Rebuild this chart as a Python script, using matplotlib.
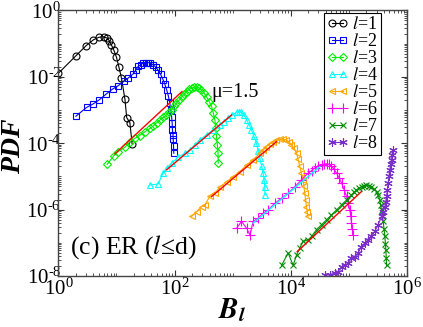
import matplotlib
matplotlib.use("Agg")
import matplotlib.pyplot as plt
from matplotlib.ticker import LogLocator, NullFormatter, FuncFormatter
import numpy as np

plt.rcParams['font.family'] = ['Liberation Serif', 'DejaVu Serif']
plt.rcParams['mathtext.fontset'] = 'stix'

# l=1 .. l=8 : B_l values and PDF values
b1 = [1, 2, 3, 4, 5, 6, 7, 7.5, 8.2, 9, 10, 11, 12.2, 14, 15, 17, 18.6]
p1 = [0.0128, 0.043, 0.087, 0.13, 0.156, 0.16, 0.146, 0.123, 0.091, 0.064, 0.039, 0.020, 0.0091,
      0.0021, 5.9e-4, 4.2e-4, 9.5e-5]

b2 = [2, 3.06, 3.9, 5, 6.6, 8.6, 10.7, 13.4, 15.9, 19.4, 21.5, 23.6, 26, 28.8, 32, 35, 38.5,
      42.8, 47, 52, 57.5, 63.6, 68, 73, 78, 83, 86, 89, 91, 92, 94, 95, 96, 97]
p2 = [6.5e-4, 1.2e-3, 1.5e-3, 2.0e-3, 3.0e-3, 4.3e-3, 5.4e-3, 7.3e-3, 9.2e-3, 0.0123, 0.016,
      0.0205, 0.023, 0.026, 0.027, 0.027, 0.026, 0.023, 0.020, 0.016, 0.012, 0.0081, 0.006,
      0.0041, 0.0027, 1.6e-3, 1.0e-3, 6.3e-4, 4e-4, 2.5e-4, 1.8e-4, 1.3e-4, 8e-5, 5e-5]

b3 = [6.9, 9, 10.7, 14, 17, 20.7, 25, 30.8, 37.6, 42.8, 49, 56, 64, 72.5, 80, 89, 98, 108, 120,
      132, 146, 161, 178, 196, 218, 240, 265, 290, 320, 355, 395, 433, 465, 495, 512, 527, 545,
      560, 565]
p3 = [2.3e-5, 4.2e-5, 5.6e-5, 7.6e-5, 1.1e-4, 1.4e-4, 1.7e-4, 2.2e-4, 2.8e-4, 3.3e-4, 4.1e-4,
      5e-4, 6e-4, 7.1e-4, 8.5e-4, 1.0e-3, 1.3e-3, 1.6e-3, 2.0e-3, 2.5e-3, 3.0e-3, 3.6e-3, 4.2e-3,
      4.6e-3, 4.9e-3, 5.0e-3, 4.6e-3, 4.0e-3, 3.3e-3, 2.5e-3, 1.8e-3, 1.3e-3, 8e-4, 5e-4, 2.8e-4,
      1.6e-4, 9e-5, 5e-5, 2.5e-5]

b4 = [37.6, 52, 63.6, 73, 89, 115, 150, 182, 223, 272, 355, 460, 600, 700, 830, 980, 1170, 1290,
      1420, 1570, 1740, 1920, 2110, 2330, 2570, 2760, 2940, 3150, 3350, 3480, 3570, 3600]
p4 = [5.5e-6, 5.9e-6, 1.26e-5, 1.8e-5, 2.5e-5, 3.8e-5, 5e-5, 6.3e-5, 8.9e-5, 1.26e-4, 1.8e-4,
      2.5e-4, 3.5e-4, 4.4e-4, 5.6e-4, 7.0e-4, 8.7e-4, 8.9e-4, 8.5e-4, 7.0e-4, 5e-4, 3.6e-4,
      2.5e-4, 1.6e-4, 1e-4, 6e-5, 3.5e-5, 2.1e-5, 1.26e-5, 7.8e-6, 4.9e-6, 2.8e-6]

b5 = [196, 240, 292, 332, 405, 495, 600, 785, 1020, 1330, 1735, 2250, 2940, 3380, 3810, 4350,
      4970, 5650, 6460, 7400, 8450, 9350, 10300, 11400, 12600, 13400, 14300, 15300, 16300, 16900,
      17400, 18000, 18600, 19200, 19900]
p5 = [6.2e-7, 8.7e-7, 1.23e-6, 1.38e-6, 2.5e-6, 3.1e-6, 4.7e-6, 6.9e-6, 9.8e-6, 1.4e-5, 2.2e-5,
      3.2e-5, 5e-5, 6.3e-5, 7.9e-5, 9.5e-5, 1.1e-4, 1.22e-4, 1.3e-4, 1.32e-4, 1.26e-4, 1.1e-4,
      8.9e-5, 7e-5, 5e-5, 3.3e-5, 2e-5, 1.25e-5, 7.8e-6, 5e-6, 3.1e-6, 2e-6, 1.23e-6, 8.5e-7,
      6.2e-7]

b6 = [1170, 1420, 1740, 1990, 2250, 2750, 3350, 4080, 5320, 6940, 9020, 11750, 15300, 19900,
      23000, 26000, 30000, 33900, 37500, 41300, 45500, 50200, 55500, 61500, 68000, 75000, 83000,
      91200, 97500, 104000, 108000, 111000, 115000, 118000]
p6 = [2.75e-7, 4.4e-7, 2.75e-7, 1.7e-7, 4.4e-7, 5.5e-7, 7.8e-7, 9.8e-7, 1.55e-6, 2.2e-6, 3.1e-6,
      4.9e-6, 7.8e-6, 1.26e-5, 1.5e-5, 1.8e-5, 2.0e-5, 2.2e-5, 2.35e-5, 2.4e-5, 2.3e-5, 2e-5,
      1.65e-5, 1.26e-5, 9e-6, 6.3e-6, 4e-6, 2.5e-6, 1.6e-6, 9.8e-7, 6.2e-7, 3.9e-7, 2.6e-7,
      1.7e-7]

b7 = [6950, 9020, 11000, 12600, 14300, 16300, 19900, 22800, 27800, 33900, 41300, 50200, 61500,
      74800, 91200, 111000, 122000, 135000, 150000, 166000, 182000, 200000, 222000, 245000,
      272000, 300000, 320000, 340000, 353000, 366000, 378000, 390000, 404000, 417000, 426000,
      434000, 440000, 446000]
p7 = [2.1e-8, 4.9e-8, 2.1e-8, 4.3e-8, 6.9e-8, 1.1e-7, 1.23e-7, 1.55e-7, 2.5e-7, 3.5e-7, 4.9e-7,
      6.9e-7, 9.8e-7, 1.38e-6, 1.95e-6, 2.75e-6, 3.3e-6, 3.9e-6, 4.4e-6, 4.9e-6, 5.3e-6, 5.5e-6,
      5.3e-6, 4.9e-6, 4.2e-6, 3.5e-6, 2.7e-6, 1.95e-6, 1.4e-6, 9.8e-7, 6.5e-7, 4.4e-7, 2.6e-7,
      1.55e-7, 9.5e-8, 6.2e-8, 3.6e-8, 2.1e-8]

b8 = [39000, 47100, 57300, 65500, 74800, 85200, 97200, 111000, 126000, 144000, 165000, 188000,
      215000, 245000, 280000, 319000, 366000, 392000, 417000, 432000, 447000, 461000, 475000,
      491000, 507000, 525000, 543000, 555000, 565000]
p8 = [1.08e-8, 1.08e-8, 1.2e-8, 1.35e-8, 1.9e-8, 2.1e-8, 2.4e-8, 3.5e-8, 3.8e-8, 4.9e-8, 7.7e-8,
      9.8e-8, 1.23e-7, 1.55e-7, 2.2e-7, 3.5e-7, 6.2e-7, 8.7e-7, 1.23e-6, 1.75e-6, 2.5e-6, 4e-6,
      6.3e-6, 1.0e-5, 1.6e-5, 2.3e-5, 3.2e-5, 4.5e-5, 6.3e-5]

# power-law fits (end points)
fit3_b = [9.4, 134]
fit3_p = [4.8e-5, 3.6e-3]
fit4_b = [72.8, 958]
fit4_p = [1.58e-5, 7.1e-4]
fit5_b = [433, 5690]
fit5_p = [2.46e-6, 1.12e-4]
fit6_b = [2250, 31700]
fit6_p = [3.9e-7, 1.97e-5]
fit7_b = [12900, 165000]
fit7_p = [5.4e-8, 3.5e-6]

series = [
    (b1, p1, 'black', 'o', 5.0),
    (b2, p2, '#0000ff', 's', 4.5),
    (b3, p3, '#00ee00', 'D', 4.0),
    (b4, p4, '#00ffff', '^', 5.0),
    (b5, p5, '#ffa500', '<', 5.0),
    (b6, p6, '#ff00ff', '+', 7.0),
    (b7, p7, '#008b00', 'x', 5.0),
    (b8, p8, '#7a2ec8', (6, 2, 0), 6.0),
]

fig = plt.figure(figsize=(4.23, 3.27), dpi=100)
ax = fig.add_axes([0.138, 0.156, 0.824, 0.812])

for i, (b, p, c, m, ms) in enumerate(series):
    filled = m in ('+', 'x') or isinstance(m, tuple)
    ax.plot(b, p, color=c, lw=0.8, marker=m, ms=ms,
            mfc=c if filled else 'none', mec=c, mew=0.8,
            label='$l$=%d' % (i + 1))

ax.plot(fit3_b, fit3_p, color='red', lw=1.0)
ax.plot(fit4_b, fit4_p, color='red', lw=1.0)
ax.plot(fit5_b, fit5_p, color='red', lw=1.0)
ax.plot(fit6_b, fit6_p, color='#00ffff', lw=1.0)
ax.plot(fit7_b, fit7_p, color='red', lw=1.0)

ax.set_xscale('log')
ax.set_yscale('log')
ax.set_xlim(1, 1e6)
ax.set_ylim(1e-8, 1)


def pow10_hyphen(v, pos):
    # hyphen (not the wide minus) in the exponent, as in the original
    e = int(round(np.log10(v)))
    if e < 0:
        return '$\\mathregular{10^{\\text{-}%d}}$' % (-e)
    return '$\\mathregular{10^{%d}}$' % e


def pow10_plain(v, pos):
    e = int(round(np.log10(v)))
    return '$\\mathregular{10^{%d}}$' % e


for axis in (ax.xaxis, ax.yaxis):
    axis.set_major_locator(LogLocator(base=100))
    axis.set_major_formatter(FuncFormatter(pow10_hyphen))
    axis.set_minor_locator(LogLocator(base=10, subs=range(1, 10), numticks=30))
    axis.set_minor_formatter(NullFormatter())
ax.tick_params(which='both', direction='in', top=True, right=True, labelsize=15, color='#333333')
ax.tick_params(which='major', length=4.5, width=0.8)
ax.tick_params(which='minor', length=2.3, width=0.6)
ax.tick_params(axis='y', which='major', pad=-2)
ax.tick_params(axis='x', which='major', pad=2)
for s in ax.spines.values():
    s.set_color('#444444')
    s.set_linewidth(1.0)

ax.set_xlabel('$\\mathbfit{B}_{\\mathbfit{l}}$', fontsize=21, labelpad=-3)
ax.set_ylabel('PDF', fontsize=20, fontweight='bold', style='italic')
ax.yaxis.set_label_coords(-0.092, 0.49)

ax.text(0.44, 0.675, 'μ=1.5', transform=ax.transAxes, fontsize=14.5)
ax.text(0.033, 0.083, '(c) ER ($l$≤d)', transform=ax.transAxes, fontsize=18.5)

leg = ax.legend(loc='upper right', bbox_to_anchor=(0.932, 1.0), borderaxespad=0.15,
                numpoints=2, handlelength=1.2, handletextpad=0.2, labelspacing=0.0,
                fontsize=13, fancybox=False, framealpha=1, edgecolor='black',
                borderpad=0.15)
leg.get_frame().set_linewidth(0.8)

try:
    fig.canvas.draw()
except Exception:
    ax.xaxis.set_major_formatter(FuncFormatter(pow10_plain))
    ax.yaxis.set_major_formatter(FuncFormatter(pow10_plain))

fig.savefig('out.png', dpi=100)
